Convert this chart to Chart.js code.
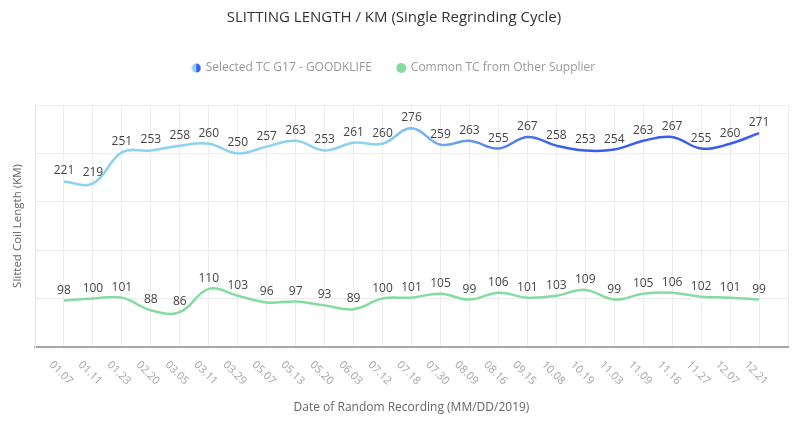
<!DOCTYPE html>
<html>
<head>
<meta charset="utf-8">
<script src="https://cdn.jsdelivr.net/npm/chart.js@4/dist/chart.umd.min.js"></script>
<style>
  html, body { margin: 0; padding: 0; background: #fff; }
  #wrap { width: 800px; height: 427px; }
</style>
</head>
<body>
<div id="wrap"><canvas id="chart"></canvas></div>
<script>
const dates = ["01.07", "01.11", "01.23", "02.20", "03.05", "03.11", "03.29", "05.07", "05.13", "05.20",
  "06.03", "07.12", "07.18", "07.30", "08.09", "08.16", "09.15", "10.08", "10.19", "11.03",
  "11.09", "11.16", "11.27", "12.07", "12.21"];
const selected = [221, 219, 251, 253, 258, 260, 250, 257, 263, 253, 261, 260, 276, 259, 263, 255, 267, 258, 253, 254, 263, 267, 255, 260, 271];
const common = [98, 100, 101, 88, 86, 110, 103, 96, 97, 93, 89, 100, 101, 105, 99, 106, 101, 103, 109, 99, 105, 106, 102, 101, 99];

const lightBlue = "#8cd2f0";
const darkBlue = "#3a5cf0";
const green = "#84dca1";

// two-tone dot for the legend
const dot = document.createElement("canvas");
dot.width = 10; dot.height = 10;
(function () {
  const c = dot.getContext("2d");
  const g = c.createLinearGradient(1, 0, 9, 0);
  g.addColorStop(0, lightBlue);
  g.addColorStop(0.45, lightBlue);
  g.addColorStop(0.55, darkBlue);
  g.addColorStop(1, darkBlue);
  c.fillStyle = g;
  c.beginPath();
  c.arc(5, 5, 4.5, 0, Math.PI * 2);
  c.fill();
})();

function blueGradient(ctx) {
  const area = ctx.chart.chartArea;
  if (!area) return lightBlue;
  const g = ctx.chart.ctx.createLinearGradient(area.left, 0, area.right, 0);
  g.addColorStop(0, lightBlue);
  g.addColorStop(0.45, lightBlue);
  g.addColorStop(0.7, darkBlue);
  g.addColorStop(1, darkBlue);
  return g;
}

// extra room under the legend
const legendGap = {
  id: "legendGap",
  beforeLayout(chart) {
    const lg = chart.legend;
    if (!lg || lg._gapped) return;
    const fit = lg.fit;
    lg.fit = function () { fit.call(this); this.height += 21; };
    lg._gapped = true;
  }
};

// value labels above the points, and rotated date labels under the axis
const labelsPlugin = {
  id: "labels",
  afterDatasetsDraw(chart) {
    const c = chart.ctx;
    c.save();
    c.font = "12px 'Open Sans'";
    c.fillStyle = "#444";
    c.textAlign = "center";
    c.textBaseline = "alphabetic";
    chart.data.datasets.forEach((ds, i) => {
      chart.getDatasetMeta(i).data.forEach((pt, j) => {
        c.fillText(ds.data[j].y, pt.x, pt.y - 7);
      });
    });
    c.restore();
  },
  afterDraw(chart) {
    const c = chart.ctx;
    const x = chart.scales.x;
    const y0 = chart.chartArea.bottom + 26;
    c.save();
    c.font = "11px 'Noto Sans'";
    c.fillStyle = "#aaa";
    c.textAlign = "center";
    c.textBaseline = "middle";
    dates.forEach((d, i) => {
      c.save();
      c.translate(x.getPixelForValue(i) - 3, y0);
      c.rotate(Math.PI / 4);
      c.fillText(d, 0, 0);
      c.restore();
    });
    c.restore();
  }
};

chart = new Chart(document.getElementById("chart"), {
  type: "line",
  data: {
    datasets: [{
      label: "Selected TC G17 - GOODKLIFE",
      data: selected.map((v, i) => ({ x: i, y: v })),
      borderColor: blueGradient,
      backgroundColor: darkBlue,
      borderWidth: 2.5,
      tension: 0.4,
      pointRadius: 0,
      pointStyle: dot
    }, {
      label: "Common TC from Other Supplier",
      data: common.map((v, i) => ({ x: i, y: v })),
      borderColor: green,
      backgroundColor: green,
      borderWidth: 2.5,
      tension: 0.4,
      pointRadius: 0,
      pointStyle: "circle"
    }]
  },
  options: {
    responsive: true,
    maintainAspectRatio: false,
    animation: false,
    layout: { padding: { left: 0, right: 12, top: 0, bottom: 0 } },
    plugins: {
      title: {
        display: true,
        text: "SLITTING LENGTH / KM (Single Regrinding Cycle)",
        color: "#333",
        font: { family: "'Open Sans'", size: 15, weight: "normal" },
        padding: { top: 9, bottom: 9 }
      },
      legend: {
        labels: {
          usePointStyle: true,
          boxWidth: 7,
          boxHeight: 7,
          color: "#999",
          font: { family: "'Open Sans'", size: 12 },
          padding: 26,
          generateLabels(chart) {
            const items = Chart.defaults.plugins.legend.labels.generateLabels(chart);
            items.forEach(it => { it.lineWidth = 0; });
            return items;
          }
        }
      },
      tooltip: { enabled: false }
    },
    scales: {
      x: {
        type: "linear",
        min: -1,
        max: 25,
        afterBuildTicks: s => { s.ticks = Array.from({ length: 27 }, (_, i) => ({ value: i - 1 })); },
        afterFit: s => { s.height = 80; },
        ticks: { display: false },
        grid: { color: "#ececec", drawTicks: false },
        border: { color: "#a8a8a8", width: 2 },
        title: {
          display: true,
          text: "Date of Random Recording (MM/DD/2019)",
          color: "#666",
          font: { family: "'Open Sans'", size: 12 },
          padding: { top: 0, bottom: 12 }
        }
      },
      y: {
        min: 50,
        max: 300,
        afterBuildTicks: s => { s.ticks = [50, 100, 150, 200, 250, 300].map(v => ({ value: v })); },
        afterFit: s => { s.width = 35; },
        ticks: { display: false },
        grid: { color: "#ececec", drawTicks: false },
        border: { color: "#e4e4e4", width: 1 },
        title: {
          display: true,
          text: "Slitted Coil Length (KM)",
          color: "#666",
          font: { family: "'Open Sans'", size: 11.5 },
          padding: { top: 11, bottom: 0 }
        }
      }
    }
  },
  plugins: [legendGap, labelsPlugin]
});
</script>
</body>
</html>
